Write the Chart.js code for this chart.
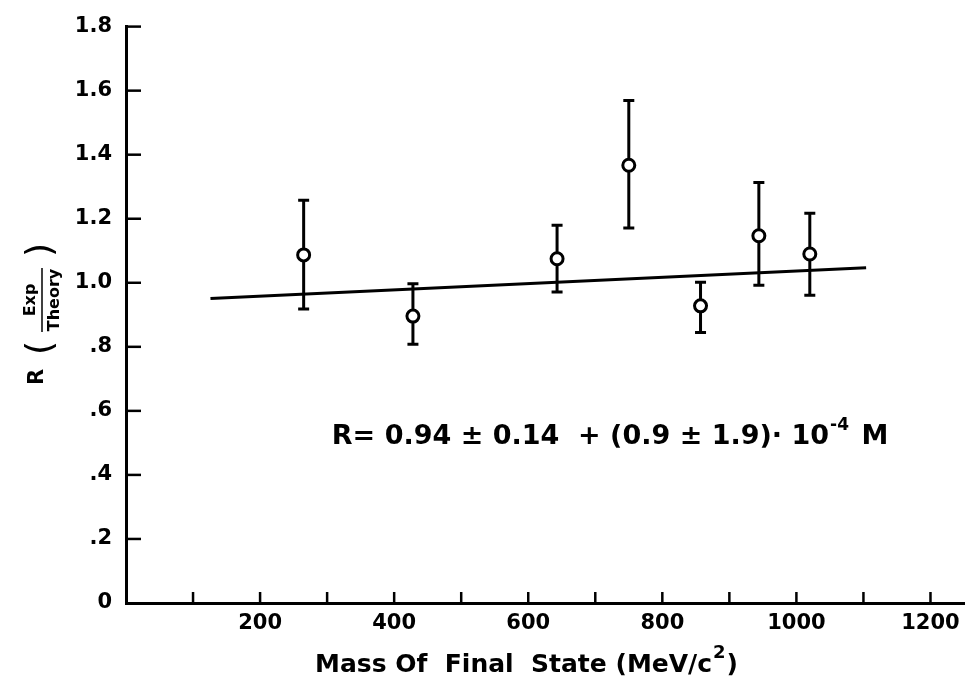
<!DOCTYPE html>
<html lang="en">
<head>
    <meta charset="UTF-8">
    <title>R (Exp/Theory) vs Mass of Final State</title>
    <script src="https://cdn.jsdelivr.net/npm/chart.js"></script>
    <style>
        body { margin: 0; background: #fff; }
        #wrap { width: 973px; height: 680px; }
    </style>
</head>
<body>
    <div id="wrap"><canvas id="ratioChart" width="973" height="680"></canvas></div>

    <script>
    // measured points (MeV/c^2) and ratio with error bar ends
    const mass = [265, 428, 643, 750, 857, 944, 1020];
    const ratio = [1.087, 0.896, 1.075, 1.367, 0.928, 1.147, 1.090];
    const errTop = [1.258, 0.997, 1.180, 1.569, 1.002, 1.313, 1.217];
    const errBottom = [0.918, 0.808, 0.971, 1.171, 0.845, 0.992, 0.961];

    // fitted straight line
    const fitMass = [126, 1104];
    const fitR = [0.951, 1.047];

    const xTickValues = [0, 100, 200, 300, 400, 500, 600, 700, 800, 900, 1000, 1100, 1200];
    const yTickValues = [0, 0.2, 0.4, 0.6, 0.8, 1.0, 1.2, 1.4, 1.6, 1.8];

    const FONT = "'DejaVu Sans', sans-serif";

    // ticks pointing inward, error bars, labels
    const decorations = {
        id: 'decorations',
        beforeDatasetsDraw(chart) {
            const ctx = chart.ctx;
            const xs = chart.scales.x, ys = chart.scales.y;
            ctx.save();
            ctx.strokeStyle = '#000';
            ctx.lineWidth = 3;
            ctx.lineCap = 'butt';
            // error bars
            mass.forEach((m, i) => {
                const px = xs.getPixelForValue(m);
                const top = ys.getPixelForValue(errTop[i]);
                const bot = ys.getPixelForValue(errBottom[i]);
                ctx.beginPath();
                ctx.moveTo(px, top);
                ctx.lineTo(px, bot);
                ctx.moveTo(px - 5.5, top);
                ctx.lineTo(px + 5.5, top);
                ctx.moveTo(px - 5.5, bot);
                ctx.lineTo(px + 5.5, bot);
                ctx.stroke();
            });
            ctx.restore();
        },
        afterDraw(chart) {
            const ctx = chart.ctx;
            const xs = chart.scales.x, ys = chart.scales.y;
            const area = chart.chartArea;
            ctx.save();
            ctx.strokeStyle = '#000';
            ctx.fillStyle = '#000';
            ctx.lineWidth = 2.5;
            // y tick marks
            yTickValues.filter(v => v > 0).forEach(v => {
                const py = ys.getPixelForValue(v);
                ctx.beginPath();
                ctx.moveTo(area.left, py);
                ctx.lineTo(area.left + 15, py);
                ctx.stroke();
            });
            // x tick marks
            xTickValues.filter(v => v > 0).forEach(v => {
                const px = xs.getPixelForValue(v);
                ctx.beginPath();
                ctx.moveTo(px, area.bottom);
                ctx.lineTo(px, area.bottom - 11);
                ctx.stroke();
            });

            // x axis title
            ctx.font = 'bold 25px ' + FONT;
            ctx.textBaseline = 'alphabetic';
            ctx.textAlign = 'left';
            let tx = 315, ty = 672;
            const part1 = 'Mass Of  Final  State (MeV/c';
            ctx.fillText(part1, tx, ty);
            tx += ctx.measureText(part1).width;
            ctx.font = 'bold 18px ' + FONT;
            ctx.fillText('2', tx + 1, ty - 14);
            tx += ctx.measureText('2').width + 2;
            ctx.font = 'bold 25px ' + FONT;
            ctx.fillText(')', tx, ty);

            // y axis title, rotated
            ctx.save();
            ctx.translate(42, 312);
            ctx.rotate(-Math.PI / 2);
            ctx.textAlign = 'center';
            ctx.textBaseline = 'middle';
            ctx.font = 'bold 21px ' + FONT;
            ctx.fillText('R', -65, -4);
            ctx.font = '36px ' + FONT;
            ctx.fillText('(', -36, 0);
            ctx.fillText(')', 62, 0);
            ctx.font = 'bold 16px ' + FONT;
            ctx.fillText('Exp', 12, -11);
            ctx.fillText('Theory', 12, 13);
            ctx.lineWidth = 1.5;
            ctx.beginPath();
            ctx.moveTo(-20, 0);
            ctx.lineTo(44, 0);
            ctx.stroke();
            ctx.restore();

            // fit formula
            ctx.textAlign = 'left';
            ctx.textBaseline = 'alphabetic';
            let ex = xs.getPixelForValue(307);
            const ey = ys.getPixelForValue(0.497);
            ctx.font = 'bold 27px ' + FONT;
            const eq1 = 'R= 0.94 ± 0.14  + (0.9 ± 1.9)· 10';
            ctx.fillText(eq1, ex, ey);
            ex += ctx.measureText(eq1).width;
            ctx.font = 'bold 17px ' + FONT;
            ctx.fillText('-4', ex + 1, ey - 14);
            ex += ctx.measureText('-4').width + 4;
            ctx.font = 'bold 27px ' + FONT;
            ctx.fillText(' M', ex, ey);
            ctx.restore();
        }
    };

    const ctx = document.getElementById('ratioChart').getContext('2d');
    const ratioChart = new Chart(ctx, {
        type: 'scatter',
        data: {
            datasets: [
                {
                    label: 'Fit',
                    data: fitMass.map((m, i) => ({ x: m, y: fitR[i] })),
                    showLine: true,
                    borderColor: '#000',
                    borderWidth: 3,
                    pointRadius: 0,
                    order: 2
                },
                {
                    label: 'R',
                    data: mass.map((m, i) => ({ x: m, y: ratio[i] })),
                    pointStyle: 'circle',
                    pointRadius: 6,
                    pointBackgroundColor: '#fff',
                    pointBorderColor: '#000',
                    pointBorderWidth: 3,
                    order: 1
                }
            ]
        },
        options: {
            responsive: false,
            animation: false,
            layout: { padding: { top: 23, right: 3, left: 0, bottom: 0 } },
            plugins: {
                legend: { display: false },
                tooltip: { enabled: false }
            },
            scales: {
                x: {
                    type: 'linear',
                    min: 0,
                    max: 1250,
                    afterBuildTicks: s => { s.ticks = xTickValues.map(v => ({ value: v })); },
                    afterFit: s => { s.height = 77; },
                    grid: { display: false, drawTicks: false },
                    border: { display: true, color: '#000', width: 3 },
                    ticks: {
                        autoSkip: false,
                        maxRotation: 0,
                        padding: 8,
                        color: '#000',
                        font: { family: FONT, size: 21, weight: 'bold' },
                        callback: v => (v > 0 && v % 200 === 0) ? String(v) : ''
                    }
                },
                y: {
                    min: 0,
                    max: 1.8,
                    afterBuildTicks: s => { s.ticks = yTickValues.map(v => ({ value: v })); },
                    afterFit: s => { s.width = 126; },
                    grid: { display: false, drawTicks: false },
                    border: { display: true, color: '#000', width: 3 },
                    ticks: {
                        autoSkip: false,
                        padding: 14,
                        color: '#000',
                        font: { family: FONT, size: 21, weight: 'bold' },
                        callback: v => {
                            const r = Math.round(v * 10) / 10;
                            if (r === 0) return '0';
                            if (r < 1) return '.' + Math.round(r * 10);
                            return r.toFixed(1);
                        }
                    }
                }
            }
        },
        plugins: [decorations]
    });
    </script>
</body>
</html>
